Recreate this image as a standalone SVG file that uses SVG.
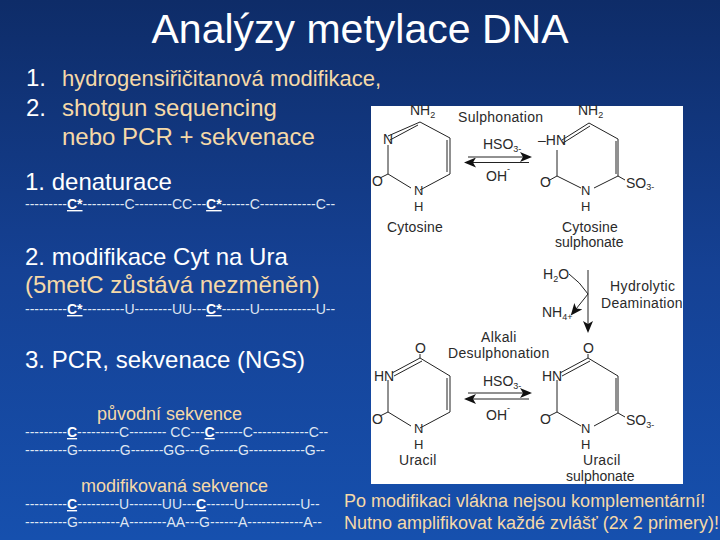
<svg xmlns="http://www.w3.org/2000/svg" width="720" height="540" viewBox="0 0 720 540">
<style>
text{font-family:"Liberation Sans",Arial,sans-serif}
.w{fill:#fff}.t{fill:#f5d9a8}
.h{font-size:24px}
.s{font-size:14px;fill:#dfe6f2}
.sb{font-weight:bold;fill:#fff;text-decoration:underline}
.c{font-size:14px;fill:#2a2a2a}
.a{font-size:13px;fill:#2a2a2a}
.sm{font-size:9px}
.b{stroke:#222;stroke-width:1;fill:none}
.p{font-size:18px;fill:#f5d9a8}
.hd{font-size:18px;fill:#f5d9a8}
</style>
<defs>
<linearGradient id="bg" x1="0" y1="0" x2="0" y2="1"><stop offset="0" stop-color="#0e2c68"/><stop offset="0.5" stop-color="#154194"/><stop offset="1" stop-color="#1650ae"/></linearGradient>
<marker id="ar" markerWidth="12" markerHeight="10" refX="10" refY="5" orient="auto" markerUnits="userSpaceOnUse"><path d="M0 0L12 5L0 10L3 5Z" fill="#111"/></marker>
</defs>
<rect width="720" height="540" fill="url(#bg)"/>
<rect x="371" y="106" width="312" height="378" fill="#fff"/>
<g id="title"><text x="360" y="43" text-anchor="middle" class="w" font-size="41">Analýzy metylace DNA</text></g>
<g id="intro">
<text x="26" y="86" class="w h">1.</text><text x="62" y="86" class="t" font-size="22">hydrogensiřičitanová modifikace,</text>
<text x="26" y="116" class="w h">2.</text><text x="62" y="116" class="t h">shotgun sequencing</text>
<text x="62" y="145" class="t h">nebo PCR + sekvenace</text>
</g>
<g id="step1"><text x="25" y="190" class="w h">1. denaturace</text>
<text x="25" y="209" class="s">---------<tspan class="sb">C*</tspan>---------C--------CC---<tspan class="sb">C*</tspan>------C------------C--</text></g>
<g id="step2"><text x="25" y="265" class="w h">2. modifikace Cyt na Ura</text>
<text x="25" y="293" class="t h">(5metC zůstává nezměněn)</text>
<text x="25" y="314" class="s">---------<tspan class="sb">C*</tspan>---------U--------UU---<tspan class="sb">C*</tspan>------U------------U--</text></g>
<g id="step3"><text x="25" y="368" class="w h">3. PCR, sekvenace (NGS)</text></g>
<g id="seq1"><text x="169.5" y="420" text-anchor="middle" class="hd">původní sekvence</text>
<text x="25" y="437" class="s">---------<tspan class="sb">C</tspan>---------C-------- CC---<tspan class="sb">C</tspan>------C------------C--</text>
<text x="25" y="455" class="s">---------G---------G-------GG---G------G------------G--</text></g>
<g id="seq2"><text x="174.5" y="492" text-anchor="middle" class="hd">modifikovaná sekvence</text>
<text x="25" y="509" class="s">---------<tspan class="sb">C</tspan>---------U-------UU---<tspan class="sb">C</tspan>------U------------U--</text>
<text x="25" y="527" class="s">---------G---------A--------AA---G------A------------A--</text></g>
<g id="note"><text x="344" y="507" class="p">Po modifikaci vlákna nejsou komplementární!</text>
<text x="344" y="529" class="p">Nutno amplifikovat každé zvlášť (2x 2 primery)!</text></g>

<g id="connectors">
<path class="b" d="M468 157H530" marker-end="url(#ar)"/><path class="b" d="M529 162.500H466" marker-end="url(#ar)"/>
<path class="b" d="M468 393H530" marker-end="url(#ar)"/><path class="b" d="M529 399H466" marker-end="url(#ar)"/>
<path class="b" d="M588 270V331" marker-end="url(#ar)"/>
<path class="b" d="M569 274Q580 282 588 294L572 314" marker-end="url(#ar)"/>
</g>

<g id="cytosine">
<path class="b" d="M420 122L450 138V174L420 190M411 188L388 174V145M388 174L380 178M388 136L420 122M390 140L418 125M447 140V172"/>
<text x="410" y="115" class="c">NH<tspan class="sm" dy="3">2</tspan></text>
<text x="383" y="144" class="c">N</text><text x="372" y="186" class="c">O</text>
<text x="414" y="195" class="a">N</text><text x="414" y="211" class="a">H</text>
<text x="387" y="232" class="c" letter-spacing="0.2">Cytosine</text>
</g>
<g id="cytosine-sulphonate">
<path class="b" d="M589 123L618 139V176L594 188M581 188L557 176V150M557 176L548 181M562 140L589 123M563 143L590 126M616 141V174M618 176L625 180"/>
<text x="578" y="115" class="c">NH<tspan class="sm" dy="3">2</tspan></text>
<text x="538" y="145" class="c">–HN</text><text x="540" y="187" class="c">O</text>
<text x="581" y="195" class="a">N</text><text x="581" y="211" class="a">H</text>
<text x="626" y="188" class="c">SO<tspan class="sm" dy="2">3-</tspan></text>
<text x="562" y="232" class="c" letter-spacing="0.2">Cytosine</text>
<text x="555" y="247" class="c">sulphonate</text>
</g>
<g id="uracil">
<path class="b" d="M420 358L450 376V412L420 428M411 426L388 412V380M388 412L380 416M392 373L420 358M394 376L422 361M447 378V410M420 358V354"/>
<text x="415" y="353" class="c">O</text><text x="374" y="381" class="c">HN</text>
<text x="372" y="424" class="c">O</text>
<text x="414" y="433" class="a">N</text><text x="414" y="449" class="a">H</text>
<text x="399" y="465" class="c" letter-spacing="0.3">Uracil</text>
</g>
<g id="uracil-sulphonate">
<path class="b" d="M588 358L618 376V413L594 426M581 426L557 412V380M557 412L549 416M560 373L588 358M562 376L590 361M616 378V411M618 413L625 417M588 358V354"/>
<text x="583" y="353" class="c">O</text><text x="542" y="381" class="c">HN</text>
<text x="540" y="424" class="c">O</text>
<text x="581" y="433" class="a">N</text><text x="581" y="449" class="a">H</text>
<text x="626" y="425" class="c">SO<tspan class="sm" dy="3">3-</tspan></text>
<text x="583" y="465" class="c" letter-spacing="0.3">Uracil</text>
<text x="566" y="481" class="c">sulphonate</text>
</g>
<g id="labels">
<text x="458" y="122" class="c" letter-spacing="0.3">Sulphonation</text>
<text x="483" y="149" class="c">HSO<tspan class="sm" dy="3">3-</tspan></text>
<text x="486" y="181" class="c">OH<tspan class="sm" dy="-9">-</tspan></text>
<text x="483" y="386" class="c">HSO<tspan class="sm" dy="3">3-</tspan></text>
<text x="486" y="420" class="c">OH<tspan class="sm" dy="-9">-</tspan></text>
<text x="543" y="279" class="c">H<tspan class="sm" dy="3">2</tspan><tspan dy="-3">O</tspan></text>
<text x="542" y="317" class="c">NH<tspan class="sm" dy="3">4+</tspan></text>
<text x="610" y="291" class="c" letter-spacing="0.4">Hydrolytic</text>
<text x="601" y="308" class="c" letter-spacing="0.3">Deamination</text>
<text x="481" y="342" class="c" letter-spacing="0.4">Alkali</text>
<text x="448" y="358" class="c" letter-spacing="0.3">Desulphonation</text>
</g>
</svg>
